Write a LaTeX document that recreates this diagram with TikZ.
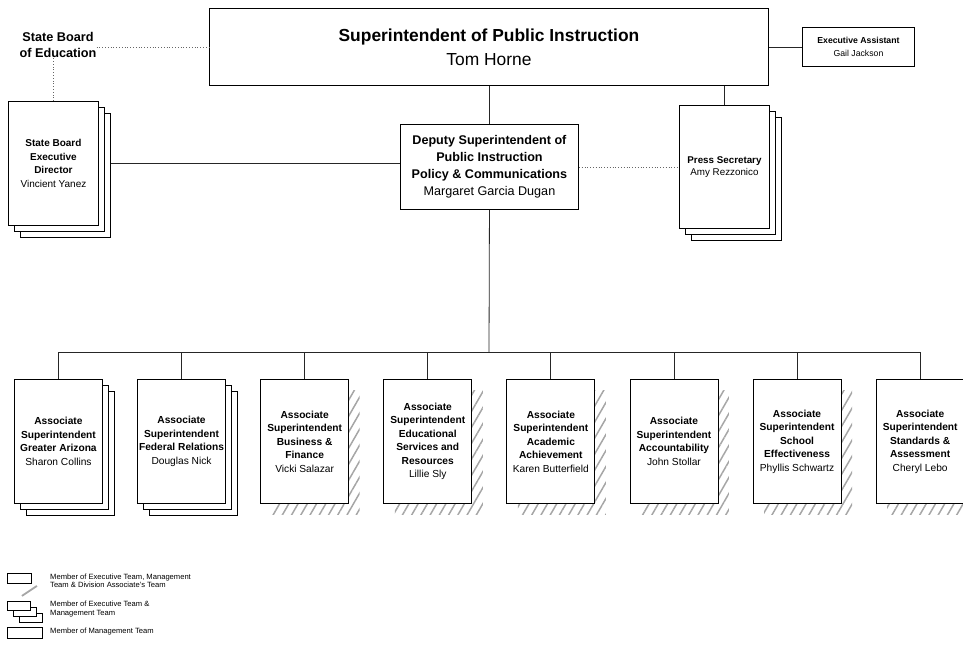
\documentclass[tikz,border=0pt]{standalone}
\usepackage{fontspec}
\setmainfont{Liberation Sans}
\usetikzlibrary{positioning,shadows,patterns.meta}
\newcommand{\fs}[2]{\fontsize{#1}{#2}\selectfont}

\begin{document}
\begin{tikzpicture}[x=1pt,y=-1pt,% one unit = one pixel, y runs down
    every node/.style={
        align=center,       % so that "\\" breaks the lines
        inner sep=0pt
        },
    box/.style={rectangle,draw=black,line width=0.9pt,fill=white,anchor=north west},
    stackbox/.style={box,
        general shadow={shadow xshift=12pt,shadow yshift=-12pt,fill=white,draw=black,line width=0.6pt},
        general shadow={shadow xshift=6pt,shadow yshift=-6pt,fill=white,draw=black,line width=0.6pt}},
    hatchbox/.style={box,
        general shadow={shadow xshift=11pt,shadow yshift=-11pt,draw=none,
            pattern={Lines[angle=60,distance=8pt,line width=1.5pt]},pattern color=black!35}},
    assoc/.style={minimum width=88pt,minimum height=124pt,font=\fs{10.2}{13.5}},
    link/.style={draw=black!85,line width=0.8pt},
    dots/.style={draw=black!60,line width=0.8pt,dotted}
    ]
\useasboundingbox (0,0) rectangle (963,652);

% top level
\node[box,minimum width=559pt,minimum height=77pt,font=\fs{17.4}{24}] (sup) at (209,8) {\textbf{Superintendent of Public Instruction}\\Tom Horne};
\node[box,minimum width=112pt,minimum height=39pt,font=\fs{8.7}{12.5}] (ea) at (802,27) {\textbf{Executive Assistant}\\Gail Jackson};
\node[font=\bfseries\fs{12.7}{16}] (sboe) at (58,45) {State Board\\of Education};

% second level
\node[stackbox,minimum width=90pt,minimum height=124pt,font=\fs{10}{13.5}] (sbed) at (8,101) {\textbf{State Board}\\\textbf{Executive}\\\textbf{Director}\\Vincient Yanez};
\node[box,minimum width=178pt,minimum height=85pt,font=\fs{12.6}{17}] (dep) at (400,124) {\textbf{Deputy Superintendent of}\\\textbf{Public Instruction}\\\textbf{Policy \& Communications}\\Margaret Garcia Dugan};
\node[stackbox,minimum width=90pt,minimum height=123pt,font=\fs{9.8}{12}] (press) at (679,105) {\textbf{Press Secretary}\\Amy Rezzonico};

% associate superintendents
\node[stackbox,assoc] (a1) at (14,379) {\textbf{Associate}\\\textbf{Superintendent}\\\textbf{Greater Arizona}\\Sharon Collins};
\node[stackbox,assoc,right=34.2pt of a1] (a2) {\textbf{Associate}\\\textbf{Superintendent}\\\textbf{Federal Relations}\\Douglas Nick};
\node[hatchbox,assoc,right=34.2pt of a2] (a3) {\textbf{Associate}\\\textbf{Superintendent}\\\textbf{Business \&}\\\textbf{Finance}\\Vicki Salazar};
\node[hatchbox,assoc,right=34.2pt of a3] (a4) {\textbf{Associate}\\\textbf{Superintendent}\\\textbf{Educational}\\\textbf{Services and}\\\textbf{Resources}\\Lillie Sly};
\node[hatchbox,assoc,right=34.2pt of a4] (a5) {\textbf{Associate}\\\textbf{Superintendent}\\\textbf{Academic}\\\textbf{Achievement}\\Karen Butterfield};
\node[hatchbox,assoc,right=34.2pt of a5] (a6) {\textbf{Associate}\\\textbf{Superintendent}\\\textbf{Accountability}\\John Stollar};
\node[hatchbox,assoc,right=34.2pt of a6] (a7) {\textbf{Associate}\\\textbf{Superintendent}\\\textbf{School}\\\textbf{Effectiveness}\\Phyllis Schwartz};
\node[hatchbox,assoc,right=34.2pt of a7] (a8) {\textbf{Associate}\\\textbf{Superintendent}\\\textbf{Standards \&}\\\textbf{Assessment}\\Cheryl Lebo};

% connectors
\draw[link] (sup.east) -- (ea.west);
\draw[link] (dep.north) -- (dep.north |- sup.south);
\draw[link] (press.north) -- (press.north |- sup.south);
\draw[link] ([xshift=12pt]sbed.east) -- (sbed.east -| dep.west);
\draw[dots] (sboe.east |- sup.west) -- (sup.west);
\draw[dots] (sbed.north) -- (sbed.north |- sboe.south);
\draw[dots] (dep.east) -- (press.west);
\coordinate (bus) at (489,352);
\draw[link] (dep.south) -- (bus);
\foreach \i in {1,...,8}
    \draw[link] (a\i.north) |- (bus);

% legend
\node[box,minimum width=24pt,minimum height=10pt] (k1) at (7,573) {};
\draw[black!35,line width=1.8pt] (k1.south east) ++(-10,12) -- ++(15,-10);
\node[stackbox,minimum width=23pt,minimum height=9pt] (k2) at (7,601) {};
\node[box,minimum width=35pt,minimum height=11pt] (k3) at (7,627) {};
\node[anchor=west,align=left,font=\fs{7.6}{8.5}] (t1) at (50,581) {Member of Executive Team, Management\\Team \& Division Associate's Team};
\node[anchor=west,align=left,font=\fs{7.6}{8.5}] (t2) at (50,609) {Member of Executive Team \&\\Management Team};
\node[anchor=west,align=left,font=\fs{7.6}{8.5}] (t3) at (50,632) {Member of Management Team};
\end{tikzpicture}
\end{document}
